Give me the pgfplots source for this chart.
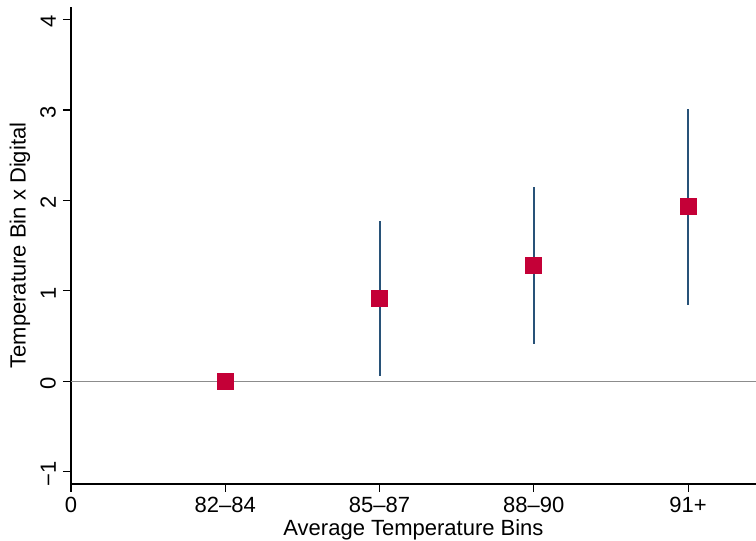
\documentclass[border=0pt]{standalone}
\usepackage{pgfplots}
\pgfplotsset{compat=1.18}
\usepackage{fontspec}
\setmainfont{Liberation Sans}
\definecolor{cimark}{RGB}{196,0,55}
\definecolor{cinavy}{RGB}{40,82,120}
\begin{document}
\begin{tikzpicture}
\begin{axis}[
 name=ax,
 scale only axis, width=342.5pt, height=238.5pt,
 xmin=0, xmax=4.44, ymin=-1.136, ymax=4.14,
 axis x line=bottom, axis y line=left,
 axis line style={-, line width=0.6pt, black},
 tick align=outside, major tick length=4pt,
 tick style={line width=0.6pt, black},
 xtick={0,1,2,3,4},
 xticklabels={0,82–84,85–87,88–90,91+},
 ytick={-1,0,1,2,3,4},
 yticklabels={−1,0,1,2,3,4},
 font=\fontsize{11}{13}\selectfont,
 ticklabel style={font=\fontsize{11}{13}\selectfont},
 xticklabel style={yshift=1.2pt},
 yticklabel style={rotate=90, anchor=south, xshift=-1pt},
 xlabel={Average Temperature Bins},
 ylabel={Temperature Bin x Digital},
 xlabel style={at={(axis description cs:0.5,-0.097)}, anchor=center},
 ylabel style={at={(axis description cs:-0.0745,0.5)}, anchor=center},
]
\addplot[gray!90, line width=0.5pt, mark=none] coordinates {(0,0) (4.44,0)};
\addplot[cinavy, line width=1pt, mark=none] coordinates {(2,0.062) (2,1.776)};
\addplot[cinavy, line width=1pt, mark=none] coordinates {(3,0.416) (3,2.149)};
\addplot[cinavy, line width=1pt, mark=none] coordinates {(4,0.847) (4,3.012)};
\addplot[only marks, mark=square*, mark size=4pt, mark options={fill=cimark, draw=cimark, line width=0pt}]
 coordinates {(1,0) (2,0.914) (3,1.282) (4,1.935)};
\end{axis}
\pgfresetboundingbox
\path[use as bounding box] ([shift={(-35.5pt,-28.5pt)}]ax.south west) rectangle ([shift={(0pt,3.5pt)}]ax.north east);
\end{tikzpicture}
\end{document}
